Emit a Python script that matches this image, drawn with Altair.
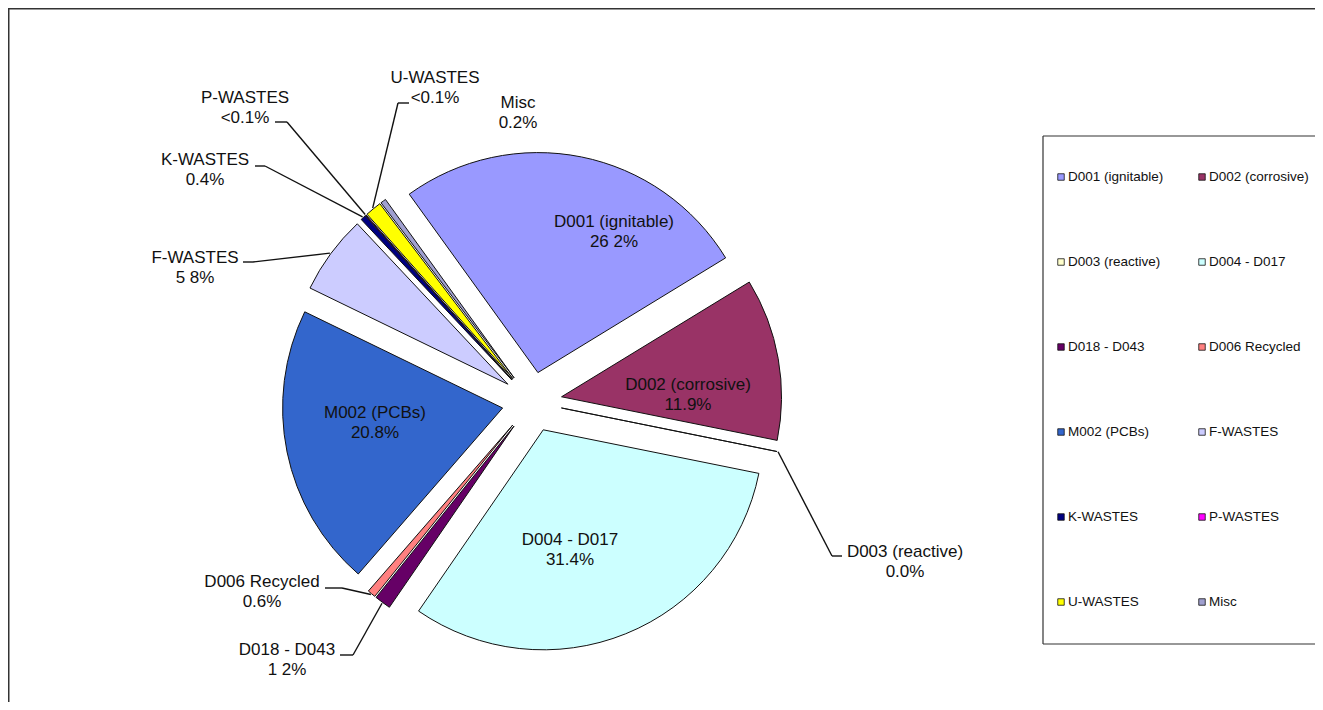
import math
import altair as alt
import pandas as pd

# ---------------- data ----------------
names = ["D001 (ignitable)", "D002 (corrosive)", "D003 (reactive)", "D004 - D017",
         "D018 - D043", "D006 Recycled", "M002 (PCBs)", "F-WASTES",
         "K-WASTES", "P-WASTES", "U-WASTES", "Misc"]
values = [26.2, 11.9, 0.0, 31.4, 1.2, 0.6, 20.8, 5.8, 0.4, 0.05, 1.2, 0.4]
pct_labels = ["26 2%", "11.9%", "0.0%", "31.4%", "1 2%", "0.6%", "20.8%",
              "5 8%", "0.4%", "<0.1%", "<0.1%", "0.2%"]
colors = ["#9999FF", "#993366", "#FFFFCC", "#CCFFFF", "#660066", "#FF8080",
          "#3366CC", "#CCCCFF", "#000080", "#FF00FF", "#FFFF00", "#A0A0D0"]

# ---------------- layout (page pixels) ----------------
OFF = 8
CX, CY = 532, 402          # pie centre
R = 220                    # radius
EXPL = 30                  # explosion distance
START = math.radians(324.2)
label_x = [614, 688, 905, 570, 287, 262, 375, 195, 205, 245, 435, 518]
label_y = [222, 385, 552, 540, 650, 582, 413, 258, 160, 98, 78, 103]
elbow_x = [None, None, 832, None, 353, 342, None, 253, 265, 287, 398, None]
elbow_y = [None, None, 556, None, 655, 588, None, 262, 166, 122, 103, None]
end_x = [None, None, 842, None, 340, 325, None, 243, 255, 275, 409, None]
end_y = [None, None, 556, None, 655, 588, None, 262, 166, 122, 103, None]

FONT = "Liberation Sans"

df = pd.DataFrame({
    "name": names, "value": values, "pct": pct_labels, "order": list(range(len(names))),
    "lx": label_x, "ly": label_y, "elx": elbow_x, "ely": elbow_y, "enx": end_x, "eny": end_y,
})

color_scale = alt.Scale(domain=names, range=colors)

base = (
    alt.Chart(df)
    .transform_joinaggregate(total="sum(value)")
    .transform_window(cum="sum(value)", sort=[alt.SortField(field="order", order="ascending")],
                      frame=[None, 0])
    .transform_calculate(
        a0=f"{START} + 2*PI*(datum.cum - datum.value)/datum.total",
        a1=f"{START} + 2*PI*datum.cum/datum.total",
    )
    .transform_calculate(mid="(datum.a0 + datum.a1)/2")
    .transform_calculate(
        px=f"{CX - OFF} + {EXPL}*sin(datum.mid)",
        py=f"{CY - OFF} - {EXPL}*cos(datum.mid)",
    )
    .transform_calculate(
        ax=f"datum.px + {R + 1}*sin(datum.mid)",
        ay=f"datum.py - {R + 1}*cos(datum.mid)",
        tx=f"datum.lx - {OFF}",
        ty=f"datum.ly - {OFF}",
        ty2=f"datum.ly - {OFF} + 20",
        ex=f"datum.elx == null ? null : datum.elx - {OFF}",
        ey=f"datum.ely == null ? null : datum.ely - {OFF}",
        nx=f"datum.enx == null ? null : datum.enx - {OFF}",
        ny=f"datum.eny == null ? null : datum.eny - {OFF}",
    )
)

arcs = base.mark_arc(radius=R, stroke="#111111", strokeWidth=1).encode(
    theta=alt.Theta("a0:Q", scale=None, stack=False),
    theta2=alt.Theta2("a1:Q"),
    x=alt.X("px:Q", scale=None, axis=None),
    y=alt.Y("py:Q", scale=None, axis=None),
    color=alt.Color("name:N", scale=color_scale, legend=None),
)

lead = base.transform_filter("datum.ex != null")
lead1 = lead.mark_rule(color="#111111", strokeWidth=1.4).encode(
    x=alt.X("ax:Q", scale=None, axis=None), y=alt.Y("ay:Q", scale=None, axis=None),
    x2="ex:Q", y2="ey:Q",
)
lead2 = lead.mark_rule(color="#111111", strokeWidth=1.4).encode(
    x=alt.X("ex:Q", scale=None, axis=None), y=alt.Y("ey:Q", scale=None, axis=None),
    x2="nx:Q", y2="ny:Q",
)

txt_kw = dict(font=FONT, fontSize=17, align="center", baseline="middle", color="#111111")
text1 = base.mark_text(**txt_kw).encode(
    x=alt.X("tx:Q", scale=None, axis=None), y=alt.Y("ty:Q", scale=None, axis=None),
    text="name:N",
)
text2 = base.mark_text(**txt_kw).encode(
    x=alt.X("tx:Q", scale=None, axis=None), y=alt.Y("ty2:Q", scale=None, axis=None),
    text="pct:N",
)

one = pd.DataFrame({"k": [0]})
rule_kw = dict(color="#333333", strokeWidth=1.5)
frame_top = alt.Chart(one).mark_rule(**rule_kw).encode(
    x=alt.value(0), x2=alt.value(1307), y=alt.value(0.75), y2=alt.value(0.75))
frame_left = alt.Chart(one).mark_rule(**rule_kw).encode(
    x=alt.value(0.75), x2=alt.value(0.75), y=alt.value(0), y2=alt.value(694))

legend_bg = alt.Chart(one).mark_rect(fill="white").encode(
    x=alt.value(1043 - OFF), x2=alt.value(1307), y=alt.value(136 - OFF), y2=alt.value(644 - OFF))
box_kw = dict(color="#333333", strokeWidth=1.2)
box_top = alt.Chart(one).mark_rule(**box_kw).encode(
    x=alt.value(1043 - OFF), x2=alt.value(1307), y=alt.value(136 - OFF), y2=alt.value(136 - OFF))
box_bottom = alt.Chart(one).mark_rule(**box_kw).encode(
    x=alt.value(1043 - OFF), x2=alt.value(1307), y=alt.value(644 - OFF), y2=alt.value(644 - OFF))
box_left = alt.Chart(one).mark_rule(**box_kw).encode(
    x=alt.value(1043 - OFF), x2=alt.value(1043 - OFF), y=alt.value(136 - OFF), y2=alt.value(644 - OFF))

leg_base = (
    alt.Chart(df)
    .transform_calculate(
        col="datum.order % 2",
        row="floor(datum.order / 2)",
    )
    .transform_calculate(
        sx=f"{1061 - OFF} + datum.col*141",
        sy=f"{177 - OFF} + datum.row*85",
    )
    .transform_calculate(lx2="datum.sx + 7")
)
leg_sq = leg_base.mark_square(size=42, opacity=1, stroke="#111111", strokeWidth=0.8).encode(
    x=alt.X("sx:Q", scale=None, axis=None), y=alt.Y("sy:Q", scale=None, axis=None),
    color=alt.Color("name:N", scale=color_scale, legend=None),
)
leg_txt = leg_base.mark_text(font=FONT, fontSize=13.5, align="left", baseline="middle",
                             color="#111111").encode(
    x=alt.X("lx2:Q", scale=None, axis=None), y=alt.Y("sy:Q", scale=None, axis=None),
    text="name:N",
)

chart = (
    alt.layer(frame_top, frame_left, arcs, lead1, lead2, text1, text2,
              legend_bg, box_top, box_bottom, box_left, leg_sq, leg_txt)
    .properties(width=1307, height=694, padding=0, autosize="none", background="white")
    .configure_view(stroke=None)
)

chart.save("out.html", embed_options={"renderer": "svg", "actions": False})
